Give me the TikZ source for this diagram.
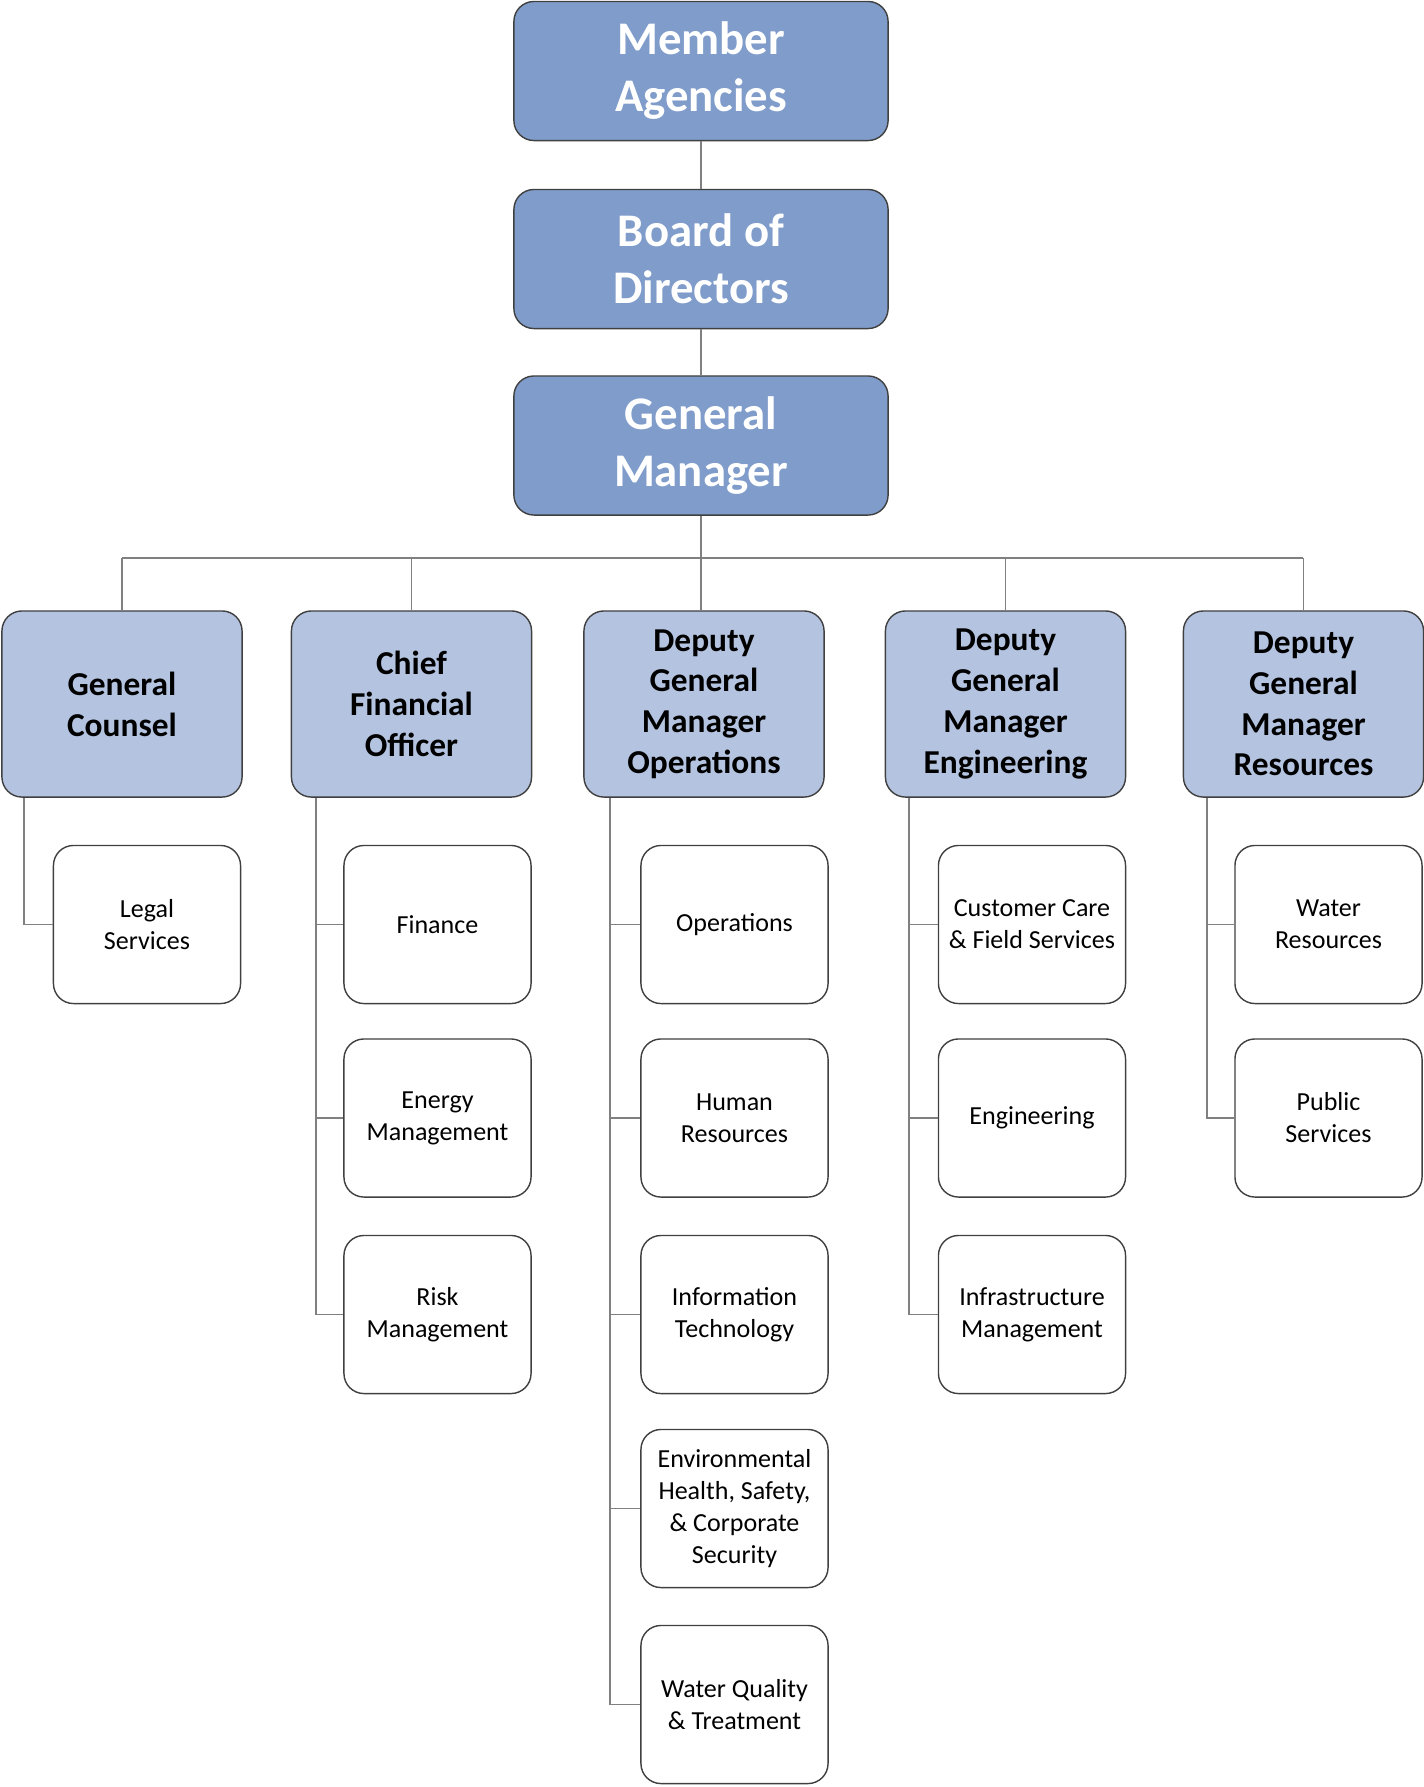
\documentclass[tikz,border=0pt]{standalone}
\usepackage{fontspec}
\setmainfont{Carlito}
\definecolor{topblue}{HTML}{7F9CCA}
\definecolor{midblue}{HTML}{B4C3DF}
\definecolor{edgegray}{HTML}{404040}
\definecolor{linkgray}{HTML}{808080}

\begin{document}
\begin{tikzpicture}[x=0.01cm, y=-0.01cm,
	topbox/.style={draw=edgegray, line width=0.4pt, fill=topblue, rounded corners=0.2cm, minimum width=3.74cm, minimum height=1.39cm, inner sep=0pt, align=center, text=white, font=\fontsize{13.3}{16.2}\selectfont\bfseries},
	headbox/.style={draw=edgegray, line width=0.4pt, fill=midblue, rounded corners=0.2cm, minimum width=2.4cm, minimum height=1.86cm, inner sep=0pt, align=center, font=\fontsize{9.5}{11.6}\selectfont\bfseries},
	unitbox/.style={draw=edgegray, line width=0.4pt, fill=white, rounded corners=0.2cm, minimum width=1.87cm, minimum height=1.58cm, inner sep=0pt, align=center, font=\fontsize{7.4}{9.1}\selectfont},
	link/.style={draw=linkgray, line width=0.45pt}]
	\useasboundingbox (0,0) rectangle (1423,1787);
	
	% top of the chart
	\node[topbox] (agencies) at (701,71) {Member\\Agencies};
	\node[topbox] (board) at (701,259) {Board of\\Directors};
	\node[topbox] (gm) at (701,445.5) {General\\Manager};
	\draw[link] (agencies.south) -- (board.north);
	\draw[link] (board.south) -- (gm.north);
	
	% department heads
	\node[headbox] (counsel) at (122,704) {General\\Counsel};
	\node[headbox] (cfo) at (411.5,704) {Chief\\Financial\\Officer};
	\node[headbox] (dops) at (704,704) {Deputy\\General\\Manager\\Operations};
	\node[headbox] (deng) at (1005.5,704) {Deputy\\General\\Manager\\Engineering};
	\node[headbox] (dres) at (1303.5,704) {Deputy\\General\\Manager\\Resources};
	
	\coordinate (busL) at (122,558);
	\coordinate (busR) at (1303,558);
	\draw[link] (gm.south) -- (gm.south |- busL);
	\draw[link] (busL) -- (busR);
	\draw[link] (counsel.north) -- (counsel.north |- busL);
	\draw[link] (cfo.north) -- (cfo.north |- busL);
	\draw[link] ([xshift=-0.03cm]dops.north) -- ([xshift=-0.03cm]dops.north |- busL);
	\draw[link] (deng.north) -- (deng.north |- busL);
	\draw[link] (dres.north) -- (dres.north |- busL);
	
	% units
	\node[unitbox] (legal) at (147,924.5) {Legal\\Services};
	
	\node[unitbox] (finance) at (437.5,924.5) {Finance};
	\node[unitbox] (energy) at (437.5,1118) {Energy\\Management};
	\node[unitbox] (risk) at (437.5,1314.5) {Risk\\Management};
	
	\node[unitbox] (ops) at (734.5,924.5) {Operations};
	\node[unitbox] (hr) at (734.5,1118) {Human\\Resources};
	\node[unitbox] (it) at (734.5,1314.5) {Information\\Technology};
	\node[unitbox] (ehs) at (734.5,1508.5) {Environmental\\Health, Safety,\\\& Corporate\\Security};
	\node[unitbox] (wqt) at (734.5,1704.5) {Water Quality\\\& Treatment};
	
	\node[unitbox] (care) at (1032,924.5) {Customer Care\\\& Field Services};
	\node[unitbox] (eng) at (1032,1118) {Engineering};
	\node[unitbox] (infra) at (1032,1314.5) {Infrastructure\\Management};
	
	\node[unitbox] (water) at (1328.5,924.5) {Water\\Resources};
	\node[unitbox] (public) at (1328.5,1118) {Public\\Services};
	
	\draw[link] ([xshift=0.23cm]counsel.south west) |- (legal.west);
	
	\draw[link] ([xshift=0.25cm]cfo.south west) |- (finance.west);
	\draw[link] ([xshift=0.25cm]cfo.south west) |- (energy.west);
	\draw[link] ([xshift=0.25cm]cfo.south west) |- (risk.west);
	
	\draw[link] ([xshift=0.27cm]dops.south west) |- (ops.west);
	\draw[link] ([xshift=0.27cm]dops.south west) |- (hr.west);
	\draw[link] ([xshift=0.27cm]dops.south west) |- (it.west);
	\draw[link] ([xshift=0.27cm]dops.south west) |- (ehs.west);
	\draw[link] ([xshift=0.27cm]dops.south west) |- (wqt.west);
	
	\draw[link] ([xshift=0.24cm]deng.south west) |- (care.west);
	\draw[link] ([xshift=0.24cm]deng.south west) |- (eng.west);
	\draw[link] ([xshift=0.24cm]deng.south west) |- (infra.west);
	
	\draw[link] ([xshift=0.24cm]dres.south west) |- (water.west);
	\draw[link] ([xshift=0.24cm]dres.south west) |- (public.west);
\end{tikzpicture}
\end{document}
